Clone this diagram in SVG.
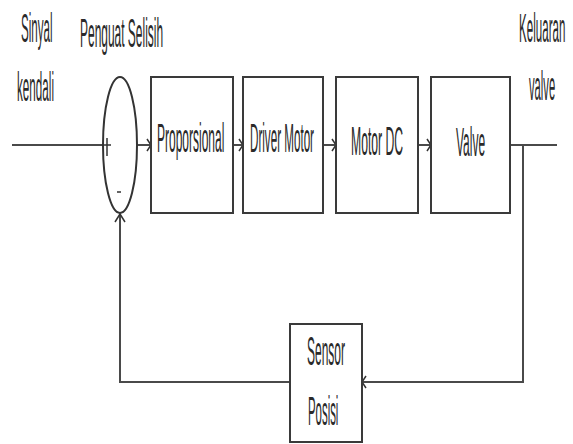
<svg xmlns="http://www.w3.org/2000/svg" width="573" height="444" viewBox="0 0 573 444">
<style>
.ln{fill:none;stroke:#4a4a4a;stroke-width:2}
.bx{fill:#fff;stroke:#3a3a3a;stroke-width:2}
.ar{fill:none;stroke:#333;stroke-width:1.5}
.t{font-family:"Liberation Sans",Arial,sans-serif;font-size:40px;fill:#2a2a2a}
</style>
<rect width="573" height="444" fill="#fff"/>
<g id="labels">
<text class="t" font-size="40" transform="translate(21,42) scale(0.29,1)">Sinyal</text>
<text class="t" font-size="40" transform="translate(17,101) scale(0.292,1)">kendali</text>
<text class="t" font-size="40" transform="translate(80,47) scale(0.299,1)">Penguat Selisih</text>
<text class="t" font-size="40" transform="translate(519,42) scale(0.29,1)">Keluaran</text>
<text class="t" font-size="40" transform="translate(529,100) scale(0.28,1)">valve</text>
</g>
<g id="connectors">
<path class="ln" d="M12 145H103"/>
<path class="ln" d="M137 145H151"/>
<path class="ln" d="M233 145H243"/>
<path class="ln" d="M323 145H336"/>
<path class="ln" d="M418 145H431"/>
<path class="ln" d="M510 145H557"/>
<path class="ln" d="M523 145V382H362"/>
<path class="ln" d="M290 382H120V214"/>
<path class="ar" d="M147 139L151 145L147 151"/>
<path class="ar" d="M239 139L243 145L239 151"/>
<path class="ar" d="M332 139L336 145L332 151"/>
<path class="ar" d="M427 139L431 145L427 151"/>
<path class="ar" d="M366 376L362 382L366 388"/>
<path class="ar" d="M115 222L120 214L125 222"/>
</g>
<g id="summing">
<ellipse cx="120" cy="145" rx="17" ry="68" fill="none" stroke="#333" stroke-width="2"/>
<path class="ar" d="M107 138V156M103 145H111"/>
<path class="ar" d="M117 192H121"/>
</g>
<g id="proporsional">
<rect class="bx" x="151" y="77" width="82" height="136"/>
<text class="t" font-size="40" transform="translate(157,152) scale(0.3,1)">Proporsional</text>
</g>
<g id="driver">
<rect class="bx" x="243" y="77" width="80" height="136"/>
<text class="t" font-size="40" transform="translate(250,152) scale(0.291,1)">Driver Motor</text>
</g>
<g id="motordc">
<rect class="bx" x="336" y="77" width="82" height="136"/>
<text class="t" font-size="40" transform="translate(351,155) scale(0.305,1)">Motor DC</text>
</g>
<g id="valve">
<rect class="bx" x="431" y="77" width="79" height="136"/>
<text class="t" font-size="40" transform="translate(456,156) scale(0.3,1)">Valve</text>
</g>
<g id="sensor">
<rect class="bx" x="290" y="324" width="72" height="118"/>
<text class="t" font-size="40" transform="translate(307,365) scale(0.3,1)">Sensor</text>
<text class="t" font-size="40" transform="translate(308,425) scale(0.285,1)">Posisi</text>
</g>
</svg>
